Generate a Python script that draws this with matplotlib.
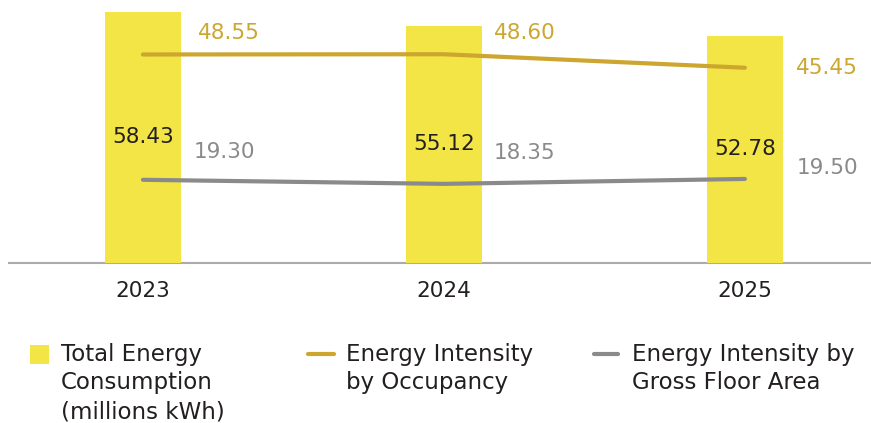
import matplotlib
matplotlib.use("Agg")
import matplotlib.pyplot as plt
from matplotlib.lines import Line2D
from matplotlib.patches import Rectangle

plt.rcParams['font.family'] = ['DejaVu Sans']

years = ["2023", "2024", "2025"]
total_consumption = [58.43, 55.12, 52.78]
intensity_occupancy = [48.55, 48.60, 45.45]
intensity_gfa = [19.30, 18.35, 19.50]

legend_labels = ["Total Energy\nConsumption\n(millions kWh)",
                 "Energy Intensity\nby Occupancy",
                 "Energy Intensity by\nGross Floor Area"]

YELLOW = "#F3E545"
GOLD = "#CCA62E"
GREY = "#8A8A8C"
DARK = "#231F20"
FS = 15.5
FS_LEGEND = 16.5

W, H = 871, 423
fig = plt.figure(figsize=(W / 100, H / 100), dpi=100)
ax = fig.add_axes([9 / W, (H - 262.5) / H, 1 - 9 / W, 262.5 / H])

x = list(range(len(years)))
ax.bar(x, total_consumption, width=0.2525, color=YELLOW, zorder=1)
ax.plot(x, intensity_occupancy, color=GOLD, lw=3, solid_capstyle='round', zorder=3)
ax.plot(x, intensity_gfa, color=GREY, lw=3, solid_capstyle='round', zorder=3)

ax.set_xlim(-0.445, 2.419)
ax.set_ylim(0, 61.26)

# bar value labels at mid-height of each bar
for xi, v in zip(x, total_consumption):
    ax.text(xi, v / 2, f"{v:.2f}", ha='center', va='center', fontsize=FS, color=DARK, zorder=4)

# line value labels, offset in pixels from each point
occ_offsets = [(86, 21), (81, 21), (82, 0)]
gfa_offsets = [(82, 28), (81, 31), (83, 11)]
for xi, v, (dx, dy) in zip(x, intensity_occupancy, occ_offsets):
    ax.annotate(f"{v:.2f}", (xi, v), xytext=(dx * 0.72, dy * 0.72), textcoords='offset points',
                ha='center', va='center', fontsize=FS, color=GOLD)
for xi, v, (dx, dy) in zip(x, intensity_gfa, gfa_offsets):
    ax.annotate(f"{v:.2f}", (xi, v), xytext=(dx * 0.72, dy * 0.72), textcoords='offset points',
                ha='center', va='center', fontsize=FS, color=GREY)

for side in ['top', 'right', 'left']:
    ax.spines[side].set_visible(False)
ax.spines['bottom'].set_color('#ABABAB')
ax.spines['bottom'].set_linewidth(1.5)
ax.spines['bottom'].set_zorder(0)
ax.set_yticks([])
ax.set_xticks(x, years)
ax.tick_params(axis='x', length=0, pad=13, labelsize=FS, labelcolor=DARK)

# legend drawn in figure pixel space
def fx(px):
    return px / W

def fy(py):
    return (H - py) / H

fig.add_artist(Rectangle((fx(30), fy(364)), 19 / W, 19 / H, transform=fig.transFigure,
                         color=YELLOW, lw=0))
fig.add_artist(Line2D([fx(308), fx(334)], [fy(354), fy(354)], transform=fig.transFigure,
                      color=GOLD, lw=3, solid_capstyle='round'))
fig.add_artist(Line2D([fx(594), fx(618)], [fy(354), fy(354)], transform=fig.transFigure,
                      color=GREY, lw=3, solid_capstyle='round'))
for px, label in zip([61, 346, 632], legend_labels):
    fig.text(fx(px), fy(342.5), label, ha='left', va='top', fontsize=FS_LEGEND, color=DARK,
             linespacing=1.32)

fig.savefig("out.png", dpi=100)
